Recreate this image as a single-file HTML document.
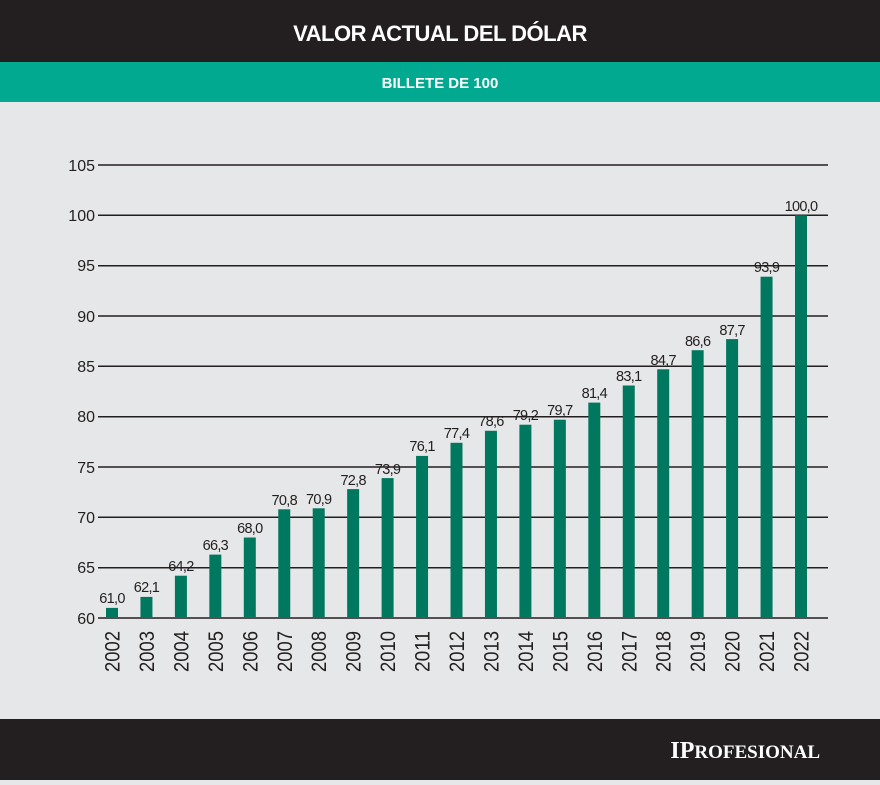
<!DOCTYPE html>
<html><head><meta charset="utf-8"><style>
body{margin:0;width:880px;height:780px;overflow:hidden;background:#e6e7e8;font-family:"Liberation Sans",sans-serif}
</style></head><body>
<svg width="880" height="780" xmlns="http://www.w3.org/2000/svg" font-family="Liberation Sans, sans-serif">
<rect width="880" height="780" fill="#e6e7e8"/>
<rect width="880" height="62" fill="#231f20"/>
<rect y="62" width="880" height="40" fill="#00a990"/>
<rect y="719" width="880" height="61" fill="#231f20"/>
<text x="440" y="41" text-anchor="middle" fill="#fff" font-size="22" font-weight="bold" letter-spacing="-0.5">VALOR ACTUAL DEL DÓLAR</text>
<text x="440" y="88" text-anchor="middle" fill="#fff" font-size="15" font-weight="bold">BILLETE DE 100</text>
<text x="820" y="758" text-anchor="end" fill="#fff" font-family="Liberation Serif, serif" font-weight="bold" font-size="24">I<tspan>P</tspan><tspan font-size="19">ROFESIONAL</tspan></text>
<g stroke="#231f20" stroke-width="1.5">
<line x1="98" x2="828" y1="165" y2="165"/><line x1="98" x2="828" y1="215.3" y2="215.3"/><line x1="98" x2="828" y1="265.7" y2="265.7"/><line x1="98" x2="828" y1="316" y2="316"/><line x1="98" x2="828" y1="366.3" y2="366.3"/><line x1="98" x2="828" y1="416.7" y2="416.7"/><line x1="98" x2="828" y1="467" y2="467"/><line x1="98" x2="828" y1="517.3" y2="517.3"/><line x1="98" x2="828" y1="567.7" y2="567.7"/><line x1="98" x2="828" y1="618" y2="618"/>
</g>
<g font-size="16" fill="#231f20" text-anchor="end">
<text x="95" y="171">105</text><text x="95" y="221">100</text><text x="95" y="271">95</text><text x="95" y="322">90</text><text x="95" y="372">85</text><text x="95" y="422">80</text><text x="95" y="473">75</text><text x="95" y="523">70</text><text x="95" y="573">65</text><text x="95" y="624">60</text>
</g>
<g fill="#00785f">
<rect x="106" y="607.9" width="12" height="10.1"/><rect x="140.45" y="596.9" width="12" height="21.1"/><rect x="174.9" y="575.7" width="12" height="42.3"/><rect x="209.35" y="554.6" width="12" height="63.4"/><rect x="243.8" y="537.5" width="12" height="80.5"/><rect x="278.25" y="509.3" width="12" height="108.7"/><rect x="312.7" y="508.3" width="12" height="109.7"/><rect x="347.15" y="489.1" width="12" height="128.9"/><rect x="381.6" y="478.1" width="12" height="139.9"/><rect x="416.05" y="455.9" width="12" height="162.1"/><rect x="450.5" y="442.8" width="12" height="175.2"/><rect x="484.95" y="430.8" width="12" height="187.2"/><rect x="519.4" y="424.7" width="12" height="193.3"/><rect x="553.85" y="419.7" width="12" height="198.3"/><rect x="588.3" y="402.6" width="12" height="215.4"/><rect x="622.75" y="385.5" width="12" height="232.5"/><rect x="657.2" y="369.3" width="12" height="248.7"/><rect x="691.65" y="350.2" width="12" height="267.8"/><rect x="726.1" y="339.1" width="12" height="278.9"/><rect x="760.55" y="276.7" width="12" height="341.3"/><rect x="795" y="215.3" width="12" height="402.7"/>
</g>
<g font-size="14.5" fill="#231f20" text-anchor="middle" letter-spacing="-0.7">
<text x="112" y="603">61,0</text><text x="146.45" y="592">62,1</text><text x="180.9" y="571">64,2</text><text x="215.35" y="550">66,3</text><text x="249.8" y="533">68,0</text><text x="284.25" y="505">70,8</text><text x="318.7" y="504">70,9</text><text x="353.15" y="485">72,8</text><text x="387.6" y="474">73,9</text><text x="422.05" y="451">76,1</text><text x="456.5" y="438">77,4</text><text x="490.95" y="426">78,6</text><text x="525.4" y="420">79,2</text><text x="559.85" y="415">79,7</text><text x="594.3" y="398">81,4</text><text x="628.75" y="381">83,1</text><text x="663.2" y="365">84,7</text><text x="697.65" y="346">86,6</text><text x="732.1" y="335">87,7</text><text x="766.55" y="272">93,9</text><text x="801" y="211">100,0</text>
</g>
<g font-size="21" fill="#231f20" text-anchor="end">
<text transform="translate(119.5,631) rotate(-90)" textLength="41" lengthAdjust="spacingAndGlyphs">2002</text><text transform="translate(153.95,631) rotate(-90)" textLength="41" lengthAdjust="spacingAndGlyphs">2003</text><text transform="translate(188.4,631) rotate(-90)" textLength="41" lengthAdjust="spacingAndGlyphs">2004</text><text transform="translate(222.85,631) rotate(-90)" textLength="41" lengthAdjust="spacingAndGlyphs">2005</text><text transform="translate(257.3,631) rotate(-90)" textLength="41" lengthAdjust="spacingAndGlyphs">2006</text><text transform="translate(291.75,631) rotate(-90)" textLength="41" lengthAdjust="spacingAndGlyphs">2007</text><text transform="translate(326.2,631) rotate(-90)" textLength="41" lengthAdjust="spacingAndGlyphs">2008</text><text transform="translate(360.65,631) rotate(-90)" textLength="41" lengthAdjust="spacingAndGlyphs">2009</text><text transform="translate(395.1,631) rotate(-90)" textLength="41" lengthAdjust="spacingAndGlyphs">2010</text><text transform="translate(429.55,631) rotate(-90)" textLength="41" lengthAdjust="spacingAndGlyphs">2011</text><text transform="translate(464,631) rotate(-90)" textLength="41" lengthAdjust="spacingAndGlyphs">2012</text><text transform="translate(498.45,631) rotate(-90)" textLength="41" lengthAdjust="spacingAndGlyphs">2013</text><text transform="translate(532.9,631) rotate(-90)" textLength="41" lengthAdjust="spacingAndGlyphs">2014</text><text transform="translate(567.35,631) rotate(-90)" textLength="41" lengthAdjust="spacingAndGlyphs">2015</text><text transform="translate(601.8,631) rotate(-90)" textLength="41" lengthAdjust="spacingAndGlyphs">2016</text><text transform="translate(636.25,631) rotate(-90)" textLength="41" lengthAdjust="spacingAndGlyphs">2017</text><text transform="translate(670.7,631) rotate(-90)" textLength="41" lengthAdjust="spacingAndGlyphs">2018</text><text transform="translate(705.15,631) rotate(-90)" textLength="41" lengthAdjust="spacingAndGlyphs">2019</text><text transform="translate(739.6,631) rotate(-90)" textLength="41" lengthAdjust="spacingAndGlyphs">2020</text><text transform="translate(774.05,631) rotate(-90)" textLength="41" lengthAdjust="spacingAndGlyphs">2021</text><text transform="translate(808.5,631) rotate(-90)" textLength="41" lengthAdjust="spacingAndGlyphs">2022</text>
</g>
</svg>
</body></html>
